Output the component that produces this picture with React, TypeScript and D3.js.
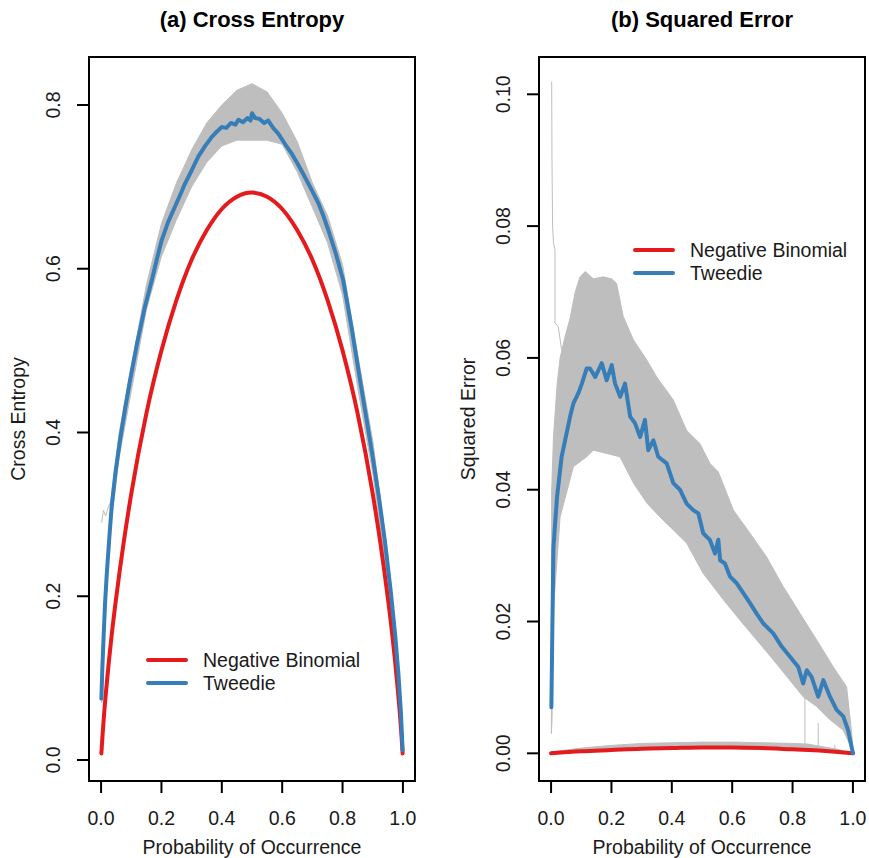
import React from 'react';
import * as d3 from 'd3';

const RED = '#E41A1C';
const BLUE = '#377EB8';
const GREY = '#BEBEBE';
const FONT = '"Liberation Sans", Arial, Helvetica, sans-serif';

const xTicks = [0, 0.2, 0.4, 0.6, 0.8, 1.0];
const legendNames = ['Negative Binomial', 'Tweedie'];

// (a) Cross Entropy
const ceTicks = [0, 0.2, 0.4, 0.6, 0.8];
const ceNbP = [0.001, 0.005, 0.01, 0.02, 0.035, 0.05, 0.075, 0.1, 0.15, 0.2, 0.25, 0.3, 0.35, 0.4, 0.45, 0.5,
  0.55, 0.6, 0.65, 0.7, 0.75, 0.8, 0.85, 0.9, 0.925, 0.95, 0.965, 0.98, 0.99, 0.995, 0.999];
const ceNbV = [0.008, 0.031, 0.056, 0.098, 0.152, 0.198, 0.266, 0.325, 0.423, 0.5, 0.562, 0.611, 0.647, 0.673, 0.688, 0.693,
  0.688, 0.673, 0.647, 0.611, 0.562, 0.5, 0.423, 0.325, 0.266, 0.198, 0.152, 0.098, 0.056, 0.031, 0.008];
const ceTwP = [0.001, 0.004, 0.008, 0.013, 0.019, 0.027, 0.035, 0.048, 0.063, 0.08, 0.096, 0.12, 0.145, 0.168, 0.185,
  0.201, 0.222, 0.245, 0.262, 0.278, 0.3, 0.322, 0.345, 0.367, 0.385, 0.4, 0.415, 0.43, 0.445, 0.455, 0.47, 0.485,
  0.495, 0.5, 0.51, 0.525, 0.54, 0.554, 0.57, 0.587, 0.61, 0.631, 0.653, 0.675, 0.698, 0.72, 0.737, 0.753, 0.778,
  0.802, 0.83, 0.858, 0.88, 0.9, 0.92, 0.94, 0.96, 0.975, 0.985, 0.993, 0.999];
const ceTwV = [0.075, 0.11, 0.147, 0.19, 0.228, 0.27, 0.309, 0.352, 0.391, 0.43, 0.464, 0.51, 0.553, 0.586, 0.612,
  0.635, 0.657, 0.676, 0.69, 0.704, 0.72, 0.737, 0.75, 0.761, 0.768, 0.773, 0.772, 0.778, 0.776, 0.782, 0.779, 0.784,
  0.781, 0.79, 0.784, 0.783, 0.778, 0.781, 0.772, 0.765, 0.752, 0.741, 0.727, 0.712, 0.696, 0.68, 0.664, 0.647, 0.618,
  0.586, 0.528, 0.464, 0.415, 0.37, 0.322, 0.268, 0.205, 0.15, 0.105, 0.06, 0.012];
const ceBandP = [0.002, 0.01, 0.02, 0.035, 0.06, 0.1, 0.15, 0.2, 0.25, 0.3, 0.35, 0.4, 0.45, 0.5, 0.55, 0.6, 0.65,
  0.7, 0.75, 0.8, 0.85, 0.9, 0.95, 0.98, 1.0];
const ceBandHi = [0.085, 0.17, 0.245, 0.325, 0.4, 0.48, 0.58, 0.655, 0.705, 0.745, 0.778, 0.80, 0.818, 0.826, 0.816,
  0.79, 0.755, 0.705, 0.665, 0.605, 0.495, 0.39, 0.25, 0.14, 0.015];
const ceBandLo = [0.07, 0.15, 0.22, 0.295, 0.37, 0.45, 0.55, 0.615, 0.66, 0.70, 0.73, 0.75, 0.757, 0.757, 0.757,
  0.752, 0.718, 0.675, 0.632, 0.568, 0.455, 0.35, 0.22, 0.115, 0.008];
// outlying replicate near p = 0
const ceOutP = [0.002, 0.008, 0.015, 0.025, 0.035, 0.045];
const ceOutV = [0.29, 0.305, 0.298, 0.31, 0.318, 0.335];

// (b) Squared Error
const seTicks = [0, 0.02, 0.04, 0.06, 0.08, 0.1];
const seNbP = [0, 0.1, 0.2, 0.3, 0.4, 0.5, 0.6, 0.7, 0.8, 0.9, 1.0];
const seNbV = [0, 0.0003, 0.0005, 0.0007, 0.0008, 0.0009, 0.0009, 0.0008, 0.0006, 0.0004, 0];
const seTwP = [0.001, 0.004, 0.0076, 0.012, 0.02, 0.035, 0.063, 0.074, 0.09, 0.102, 0.118, 0.129, 0.146, 0.168,
  0.184, 0.201, 0.212, 0.229, 0.245, 0.262, 0.278, 0.295, 0.311, 0.322, 0.339, 0.355, 0.383, 0.405, 0.427, 0.449,
  0.471, 0.488, 0.504, 0.526, 0.543, 0.554, 0.56, 0.576, 0.593, 0.615, 0.637, 0.659, 0.681, 0.703, 0.736, 0.764,
  0.791, 0.819, 0.835, 0.847, 0.863, 0.885, 0.902, 0.924, 0.946, 0.968, 0.984, 1.0];
const seTwV = [0.007, 0.018, 0.0309, 0.034, 0.039, 0.045, 0.0511, 0.0531, 0.0546, 0.0561, 0.0584, 0.0584, 0.0571,
  0.0592, 0.0566, 0.0589, 0.0561, 0.0541, 0.0561, 0.0511, 0.0501, 0.048, 0.0506, 0.046, 0.0475, 0.045, 0.044, 0.041,
  0.04, 0.0379, 0.0369, 0.0364, 0.0334, 0.0324, 0.0303, 0.0324, 0.0293, 0.0288, 0.0268, 0.0258, 0.0243, 0.0228,
  0.0212, 0.0197, 0.0182, 0.0162, 0.0147, 0.0131, 0.0106, 0.0126, 0.0116, 0.0086, 0.0111, 0.0086, 0.0066, 0.0056,
  0.0035, 0.0];
const seBandHiP = [0.002, 0.008, 0.02, 0.03, 0.045, 0.063, 0.08, 0.096, 0.113, 0.14, 0.173, 0.2, 0.217, 0.239, 0.273,
  0.317, 0.35, 0.405, 0.449, 0.493, 0.526, 0.554, 0.604, 0.659, 0.714, 0.769, 0.825, 0.88, 0.935, 0.979, 0.996, 1.0];
const seBandHi = [0.04, 0.048, 0.056, 0.06, 0.063, 0.066, 0.07, 0.0723, 0.0731, 0.072, 0.0723, 0.072, 0.0713, 0.0663,
  0.0627, 0.0597, 0.0571, 0.0536, 0.049, 0.047, 0.044, 0.0427, 0.0369, 0.0334, 0.0298, 0.0253, 0.0212, 0.0172,
  0.0131, 0.0101, 0.003, 0.0003];
const seBandLoP = [0.001, 0.003, 0.008, 0.03, 0.074, 0.118, 0.14, 0.184, 0.228, 0.273, 0.317, 0.36, 0.405, 0.449,
  0.504, 0.571, 0.626, 0.681, 0.736, 0.791, 0.835, 0.88, 0.924, 0.968, 1.0];
const seBandLo = [0.003, 0.005, 0.022, 0.0359, 0.0435, 0.045, 0.046, 0.0455, 0.045, 0.041, 0.038, 0.0359, 0.0339,
  0.0319, 0.0273, 0.0233, 0.0202, 0.0172, 0.0142, 0.0111, 0.0086, 0.0071, 0.0051, 0.0035, 0.0003];
// outlying replicate near p = 0
const seOutP = [0.002, 0.003, 0.005, 0.008, 0.013, 0.013, 0.024, 0.035];
const seOutV = [0.1019, 0.09, 0.08, 0.0775, 0.0764, 0.0653, 0.0647, 0.0612];
// replicates of the negative binomial fit, just above the red curve
const seNbBandP = [0, 0.1, 0.2, 0.3, 0.4, 0.5, 0.6, 0.7, 0.8, 0.85, 0.9, 0.95, 1.0];
const seNbBandHi = [0.0002, 0.0008, 0.0012, 0.0015, 0.0016, 0.0017, 0.0017, 0.0016, 0.0015, 0.0014, 0.001, 0.0006, 0];
const seSpikeP = [0.841, 0.885, 0.94];
const seSpikeLo = [0.0012, 0.0011, 0.0007];
const seSpikeHi = [0.0085, 0.0046, 0.0013];

type Pt = [number, number];
const zip = (p: number[], v: number[]): Pt[] => p.map((d, i) => [d, v[i]]);

interface PanelProps {
  left: number;
  right: number;
  top: number;
  bottom: number;
  yDomain: [number, number];
  yTicks: number[];
  yFmt: (v: number) => string;
  title: string;
  yLabel: string;
  bands: Pt[][];
  greyLines: Pt[][];
  nb: Pt[];
  tw: Pt[];
  nbCurve: d3.CurveFactory;
  legendX: number;
  legendY: number;
}

function Panel(props: PanelProps) {
  const { left, right, top, bottom, yDomain, yTicks, yFmt, title, yLabel } = props;
  const x = d3.scaleLinear().domain([-0.04, 1.04]).range([left, right]);
  const y = d3.scaleLinear().domain(yDomain).range([bottom, top]);
  const line = d3.line<Pt>().x(d => x(d[0])).y(d => y(d[1]));
  const smooth = d3.line<Pt>().x(d => x(d[0])).y(d => y(d[1])).curve(props.nbCurve);
  const cx = (left + right) / 2;
  const cy = (top + bottom) / 2;
  const fs = 19.5;

  return (
    <g fontFamily={FONT}>
      <text x={cx} y={27} textAnchor="middle" fontSize={22} fontWeight="bold" fill="#000">{title}</text>

      {props.bands.map((b, i) => (
        <path key={'b' + i} d={line(b) + 'Z'} fill={GREY} stroke={GREY} strokeWidth={1} strokeLinejoin="round" />
      ))}
      {props.greyLines.map((l, i) => (
        <path key={'g' + i} d={line(l) || ''} fill="none" stroke={GREY} strokeWidth={1} />
      ))}
      <path d={smooth(props.nb) || ''} fill="none" stroke={RED} strokeWidth={4} strokeLinecap="round" strokeLinejoin="round" />
      <path d={line(props.tw) || ''} fill="none" stroke={BLUE} strokeWidth={4} strokeLinecap="round" strokeLinejoin="round" />

      <rect x={left} y={top} width={right - left} height={bottom - top} fill="none" stroke="#000" strokeWidth={2} />

      {xTicks.map(t => (
        <g key={'x' + t}>
          <line x1={x(t)} x2={x(t)} y1={bottom} y2={bottom + 12} stroke="#000" strokeWidth={2} />
          <text x={x(t)} y={bottom + 44} textAnchor="middle" fontSize={fs} fill="#1a1a1a">{t.toFixed(1)}</text>
        </g>
      ))}
      {yTicks.map(t => (
        <g key={'y' + t}>
          <line x1={left - 12} x2={left} y1={y(t)} y2={y(t)} stroke="#000" strokeWidth={2} />
          <text transform={`translate(${left - 29},${y(t)}) rotate(-90)`} textAnchor="middle" fontSize={fs} fill="#1a1a1a">
            {yFmt(t)}
          </text>
        </g>
      ))}
      <text x={cx} y={bottom + 73} textAnchor="middle" fontSize={fs} fill="#1a1a1a">Probability of Occurrence</text>
      <text transform={`translate(${left - 64},${cy}) rotate(-90)`} textAnchor="middle" fontSize={fs} fill="#1a1a1a">
        {yLabel}
      </text>

      {legendNames.map((name, i) => {
        const ly = props.legendY + i * 23;
        return (
          <g key={name}>
            <line x1={props.legendX} x2={props.legendX + 38} y1={ly} y2={ly} stroke={i === 0 ? RED : BLUE}
              strokeWidth={4} strokeLinecap="round" />
            <text x={props.legendX + 55} y={ly + 7} fontSize={fs} fill="#1a1a1a">{name}</text>
          </g>
        );
      })}
    </g>
  );
}

export default function App() {
  const ceBand = [...zip(ceBandP, ceBandHi), ...zip(ceBandP, ceBandLo).reverse()];
  const seBand = [...zip(seBandHiP, seBandHi), ...zip(seBandLoP, seBandLo).reverse()];
  const seNbBand = [...zip(seNbBandP, seNbBandHi), ...zip(seNbP, seNbV).reverse()];
  const spikes: Pt[][] = seSpikeP.map((p, i) => [[p, seSpikeLo[i]], [p, seSpikeHi[i]]]);

  return (
    <div style={{ position: 'absolute', left: 0, top: 0 }}>
      <svg width={869} height={858} style={{ display: 'block', background: '#fff' }}>
        <Panel
          left={89} right={415} top={57} bottom={781}
          yDomain={[-0.02565, 0.8586]} yTicks={ceTicks} yFmt={v => v.toFixed(1)}
          title="(a) Cross Entropy" yLabel="Cross Entropy"
          bands={[ceBand]} greyLines={[zip(ceOutP, ceOutV)]}
          nb={zip(ceNbP, ceNbV)} tw={zip(ceTwP, ceTwV)} nbCurve={d3.curveMonotoneX}
          legendX={148} legendY={660}
        />
        <Panel
          left={539} right={865} top={57} bottom={781}
          yDomain={[-0.0042, 0.10566]} yTicks={seTicks} yFmt={v => v.toFixed(2)}
          title="(b) Squared Error" yLabel="Squared Error"
          bands={[seBand, seNbBand]} greyLines={[zip(seOutP, seOutV), ...spikes]}
          nb={zip(seNbP, seNbV)} tw={zip(seTwP, seTwV)} nbCurve={d3.curveMonotoneX}
          legendX={635} legendY={250}
        />
      </svg>
    </div>
  );
}
